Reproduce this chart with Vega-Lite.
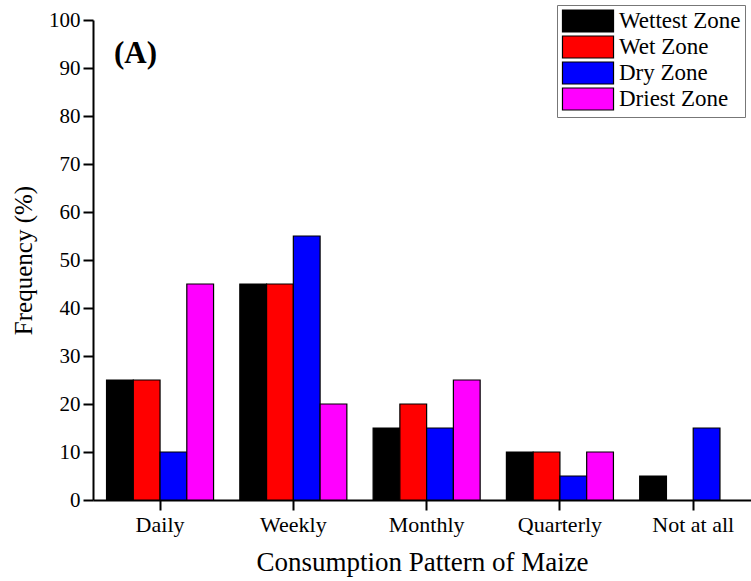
{
  "$schema": "https://vega.github.io/schema/vega-lite/v6.json",
  "width": 658,
  "height": 480,
  "autosize": "none",
  "padding": {"left": 93, "top": 20, "right": 0, "bottom": 81},
  "background": "white",
  "config": {
    "view": {"stroke": null},
    "font": "Liberation Serif"
  },
  "data": {
    "values": [
      {"pattern": "Daily", "zone": "Wettest Zone", "freq": 25},
      {"pattern": "Daily", "zone": "Wet Zone", "freq": 25},
      {"pattern": "Daily", "zone": "Dry Zone", "freq": 10},
      {"pattern": "Daily", "zone": "Driest Zone", "freq": 45},
      {"pattern": "Weekly", "zone": "Wettest Zone", "freq": 45},
      {"pattern": "Weekly", "zone": "Wet Zone", "freq": 45},
      {"pattern": "Weekly", "zone": "Dry Zone", "freq": 55},
      {"pattern": "Weekly", "zone": "Driest Zone", "freq": 20},
      {"pattern": "Monthly", "zone": "Wettest Zone", "freq": 15},
      {"pattern": "Monthly", "zone": "Wet Zone", "freq": 20},
      {"pattern": "Monthly", "zone": "Dry Zone", "freq": 15},
      {"pattern": "Monthly", "zone": "Driest Zone", "freq": 25},
      {"pattern": "Quarterly", "zone": "Wettest Zone", "freq": 10},
      {"pattern": "Quarterly", "zone": "Wet Zone", "freq": 10},
      {"pattern": "Quarterly", "zone": "Dry Zone", "freq": 5},
      {"pattern": "Quarterly", "zone": "Driest Zone", "freq": 10},
      {"pattern": "Not at all", "zone": "Wettest Zone", "freq": 5},
      {"pattern": "Not at all", "zone": "Dry Zone", "freq": 15}
    ]
  },
  "layer": [
    {
      "mark": {"type": "bar", "stroke": "black", "strokeWidth": 1.2},
      "encoding": {
        "x": {
          "field": "pattern", "type": "nominal",
          "sort": ["Daily", "Weekly", "Monthly", "Quarterly", "Not at all"],
          "scale": {"domain": ["Daily", "Weekly", "Monthly", "Quarterly", "Not at all"], "paddingInner": 0.197, "paddingOuter": 0.0668, "align": 0.76},
          "axis": {
            "title": "Consumption Pattern of Maize",
            "titleFont": "Liberation Serif", "titleFontSize": 27, "titleFontWeight": "normal", "titleColor": "black", "titlePadding": 14,
            "labelFont": "Liberation Serif", "labelFontSize": 22, "labelColor": "black", "labelAngle": 0, "labelPadding": 4,
            "domainColor": "black", "domainWidth": 2, "tickColor": "black", "tickWidth": 2, "tickSize": 10
          }
        },
        "xOffset": {
          "field": "zone", "type": "nominal",
          "sort": ["Wettest Zone", "Wet Zone", "Dry Zone", "Driest Zone"],
          "scale": {"domain": ["Wettest Zone", "Wet Zone", "Dry Zone", "Driest Zone"], "paddingInner": 0, "paddingOuter": 0}
        },
        "y": {
          "field": "freq", "type": "quantitative",
          "scale": {"domain": [0, 100], "nice": false},
          "axis": {
            "title": "Frequency (%)", "values": [0, 10, 20, 30, 40, 50, 60, 70, 80, 90, 100],
            "titleFont": "Liberation Serif", "titleFontSize": 25, "titleFontWeight": "normal", "titleColor": "black", "titlePadding": 12,
            "labelFont": "Liberation Serif", "labelFontSize": 21, "labelColor": "black", "labelPadding": 3,
            "grid": false, "domainColor": "black", "domainWidth": 2, "tickColor": "black", "tickWidth": 2, "tickSize": 10
          }
        },
        "color": {
          "field": "zone", "type": "nominal",
          "scale": {"domain": ["Wettest Zone", "Wet Zone", "Dry Zone", "Driest Zone"], "range": ["#000000", "#ff0000", "#0000ff", "#ff00ff"]},
          "legend": {
            "title": null, "orient": "none", "legendX": 464, "legendY": -15,
            "symbolType": "M-2.32,-1H2.32V1H-2.32Z", "symbolSize": 484, "symbolOffset": 15, "symbolStrokeColor": "black", "symbolStrokeWidth": 1.2, "symbolOpacity": 1,
            "labelFont": "Liberation Serif", "labelFontSize": 23, "labelColor": "black", "labelOffset": 19,
            "rowPadding": -2, "padding": 4, "strokeColor": "#777777", "fillColor": "white"
          }
        }
      }
    },
    {
      "data": {"values": [{"label": "(A)"}]},
      "mark": {"type": "text", "align": "right", "baseline": "alphabetic", "dx": -3, "font": "Liberation Serif", "fontSize": 31, "fontWeight": "bold", "color": "black"},
      "encoding": {
        "x": {"datum": "Daily", "type": "nominal"},
        "y": {"datum": 91, "type": "quantitative"},
        "text": {"field": "label"}
      }
    }
  ]
}
